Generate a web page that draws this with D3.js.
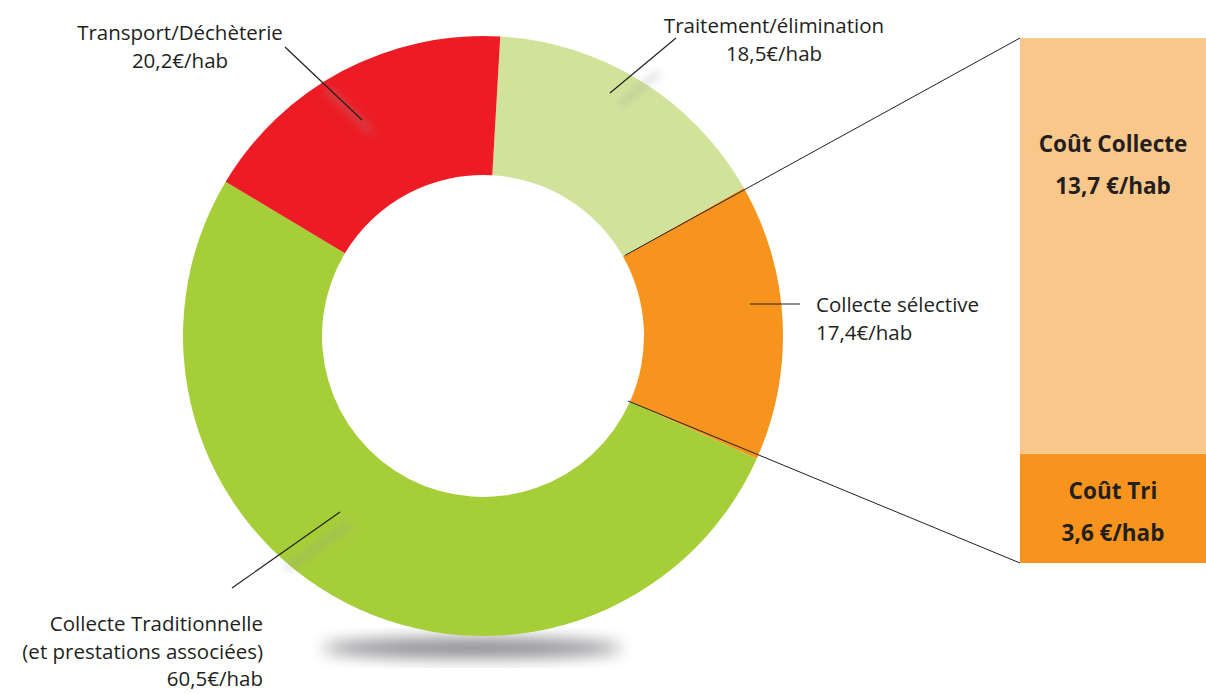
<!DOCTYPE html>
<html>
<head>
<meta charset="utf-8">
<script src="https://cdn.jsdelivr.net/npm/d3@7"></script>
<style>
  body { margin: 0; background: #fff; }
  text { font-family: "Open Sans", Lato, sans-serif; fill: #231f20; }
</style>
</head>
<body>
<script>
// donut slices, clockwise from the top
const categories = ['Traitement/élimination', 'Collecte sélective', 'Collecte Traditionnelle', 'Transport/Déchèterie'];
const costs = [18.5, 17.4, 60.5, 20.2];
const costLabels = ['18,5€/hab', '17,4€/hab', '60,5€/hab', '20,2€/hab'];
const colors = ['#d1e39b', '#f7941d', '#a6ce39', '#ed1c24'];

// breakdown of "Collecte sélective"
const detailParts = ['Coût Tri', 'Coût Collecte'];
const detailValues = [3.6, 13.7];
const detailLabels = ['3,6 €/hab', '13,7 €/hab'];
const detailColors = ['#f7941d', '#fac78a'];

const width = 1206, height = 694;
const cx = 483, cy = 336, outerR = 300, innerR = 161;
const startAngle = 3.3 * Math.PI / 180;

const svg = d3.select('body')
  .append('svg')
  .attr('width', width)
  .attr('height', height);

const defs = svg.append('defs');
defs.append('filter').attr('id', 'blur8')
  .attr('x', '-50%').attr('y', '-50%').attr('width', '200%').attr('height', '200%')
  .append('feGaussianBlur').attr('stdDeviation', 8);
defs.append('filter').attr('id', 'blur4')
  .attr('x', '-50%').attr('y', '-50%').attr('width', '200%').attr('height', '200%')
  .append('feGaussianBlur').attr('stdDeviation', 4);

// floor shadow
svg.append('ellipse')
  .attr('cx', 472).attr('cy', 648)
  .attr('rx', 150).attr('ry', 10)
  .attr('fill', '#8a8b8f')
  .attr('filter', 'url(#blur8)');

const pie = d3.pie()
  .sort(null)
  .value(d => d)
  .startAngle(startAngle)
  .endAngle(startAngle + 2 * Math.PI);

const arcs = pie(costs);

const arc = d3.arc()
  .innerRadius(innerR)
  .outerRadius(outerR);

const g = svg.append('g')
  .attr('transform', `translate(${cx}, ${cy})`);

g.selectAll('path')
  .data(arcs)
  .enter()
  .append('path')
  .attr('d', arc)
  .attr('fill', (d, i) => colors[i]);

// leader lines for each slice: start (inside ring) and end near label
const leaders = [
  { from: [610, 93], to: [676, 38] },
  { from: [750, 304], to: [800, 304] },
  { from: [340, 512], to: [232, 588] },
  { from: [362, 120], to: [285, 47] }
];

// soft shadows of the leader lines
svg.selectAll('.lshadow')
  .data(leaders)
  .enter()
  .append('line')
  .attr('class', 'lshadow')
  .attr('x1', d => d.from[0] + 10).attr('y1', d => d.from[1] + 12)
  .attr('x2', d => d.from[0] + 10 + (d.to[0] - d.from[0]) * 0.6)
  .attr('y2', d => d.from[1] + 12 + (d.to[1] - d.from[1]) * 0.6)
  .attr('stroke', '#999')
  .attr('stroke-width', 6)
  .attr('opacity', 0.35)
  .attr('filter', 'url(#blur4)');

svg.selectAll('.leader')
  .data(leaders)
  .enter()
  .append('line')
  .attr('class', 'leader')
  .attr('x1', d => d.from[0]).attr('y1', d => d.from[1])
  .attr('x2', d => d.to[0]).attr('y2', d => d.to[1])
  .attr('stroke', '#231f20')
  .attr('stroke-width', 1.2);

// slice labels
const labelSpecs = [
  { x: 774, y: 33, anchor: 'middle', lines: [categories[0], costLabels[0]] },
  { x: 816, y: 312, anchor: 'start', lines: [categories[1], costLabels[1]] },
  { x: 263, y: 631, anchor: 'end', lines: [categories[2], '(et prestations associées)', costLabels[2]] },
  { x: 180, y: 40, anchor: 'middle', lines: [categories[3], costLabels[3]] }
];

labelSpecs.forEach(s => {
  const t = svg.append('text')
    .attr('x', s.x).attr('y', s.y)
    .attr('text-anchor', s.anchor)
    .attr('font-size', 20.5);
  s.lines.forEach((l, i) => {
    t.append('tspan')
      .attr('x', s.x)
      .attr('dy', i === 0 ? 0 : 27.5)
      .text(l);
  });
});

// detail stacked bar
const barX = 1020, barW = 186;
const yBar = d3.scaleLinear()
  .domain([0, d3.sum(detailValues)])
  .range([563, 38]);

const stacked = [];
let acc = 0;
detailValues.forEach((v, i) => {
  stacked.push({ y0: acc, y1: acc + v, i });
  acc += v;
});

svg.selectAll('.bar')
  .data(stacked)
  .enter()
  .append('rect')
  .attr('class', 'bar')
  .attr('x', barX)
  .attr('width', barW)
  .attr('y', d => yBar(d.y1))
  .attr('height', d => yBar(d.y0) - yBar(d.y1))
  .attr('fill', d => detailColors[d.i]);

// connecting lines from the orange slice to the bar
const sel = arcs[1];
const polar = (a, r) => [cx + r * Math.sin(a), cy - r * Math.cos(a)];
const pStart = polar(sel.startAngle, innerR + 2);
const pEnd = polar(sel.endAngle, innerR - 2);

svg.append('line')
  .attr('x1', pStart[0]).attr('y1', pStart[1])
  .attr('x2', barX).attr('y2', yBar(d3.sum(detailValues)))
  .attr('stroke', '#231f20').attr('stroke-width', 1);

svg.append('line')
  .attr('x1', pEnd[0]).attr('y1', pEnd[1])
  .attr('x2', barX).attr('y2', yBar(0))
  .attr('stroke', '#231f20').attr('stroke-width', 1);

// bar texts
const barTextPos = [
  { y: 499 },
  { y: 152 }
];
stacked.forEach((d, i) => {
  const t = svg.append('text')
    .attr('x', 1113).attr('y', barTextPos[i].y)
    .attr('text-anchor', 'middle')
    .attr('font-size', 22.5)
    .attr('font-weight', 'bold');
  t.append('tspan').attr('x', 1113).attr('dy', 0).text(detailParts[i]);
  t.append('tspan').attr('x', 1113).attr('dy', 42).text(detailLabels[i]);
});
</script>
</body>
</html>
